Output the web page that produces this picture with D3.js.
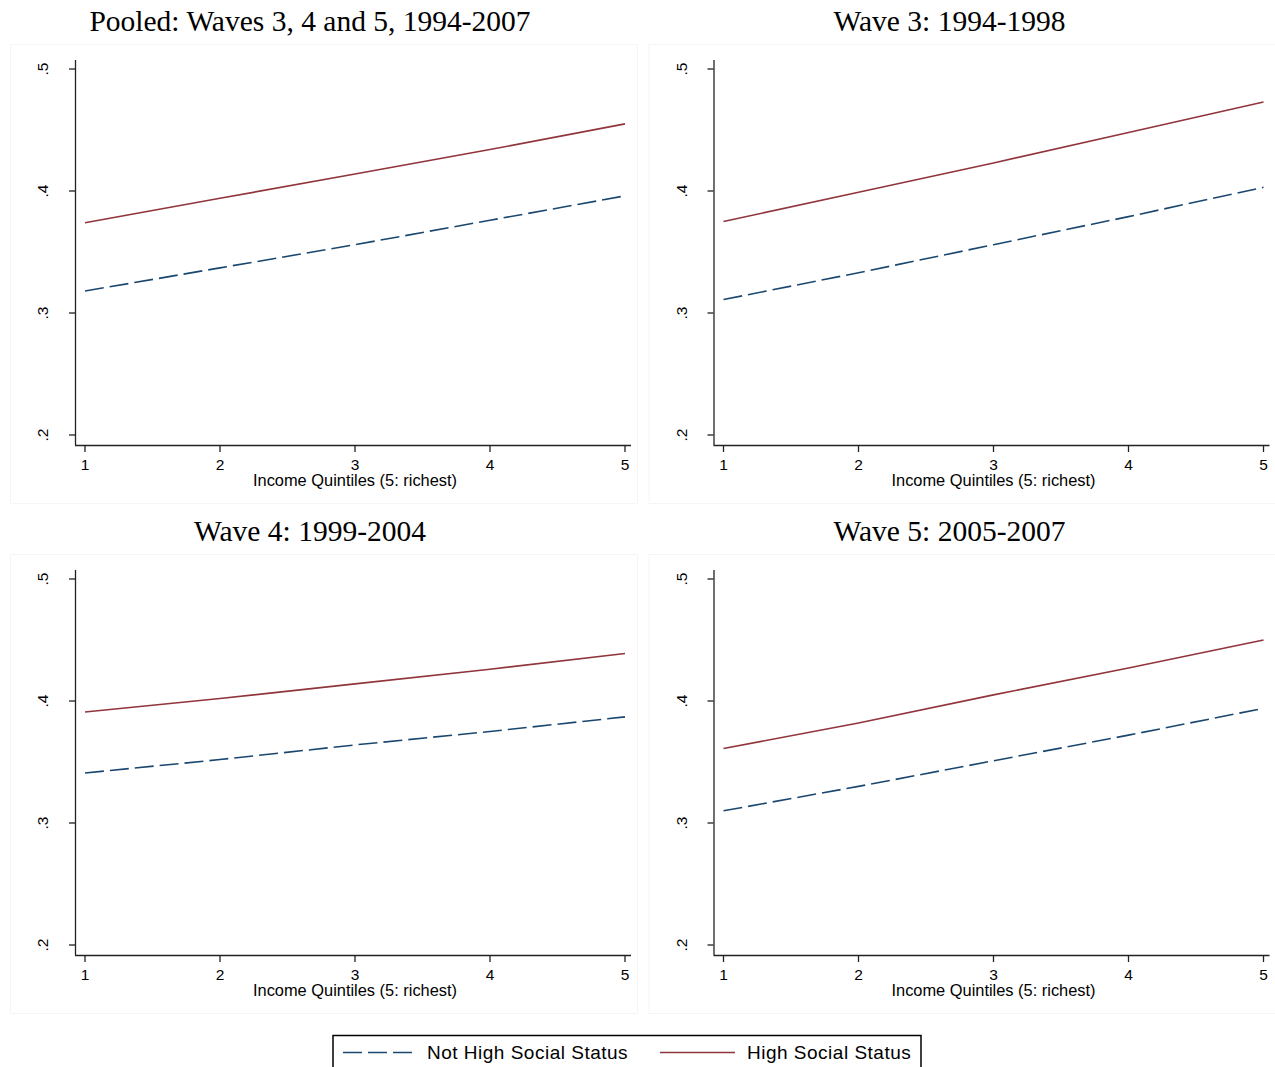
<!DOCTYPE html>
<html>
<head>
<meta charset="utf-8">
<script src="https://cdn.jsdelivr.net/npm/d3@7.9.0/dist/d3.min.js"></script>
<style>
  body { margin: 0; background: #fff; }
  svg { display: block; }
  .tick-label { font-family: "Liberation Sans", Arial, sans-serif; font-size: 15.5px; fill: #000; }
  .axis-title { font-family: "Liberation Sans", Arial, sans-serif; font-size: 16.4px; fill: #000; }
  .panel-title { font-family: "Liberation Serif", "Times New Roman", serif; font-size: 29.5px; fill: #000; }
  .legend-text { font-family: "Liberation Sans", Arial, sans-serif; font-size: 19px; letter-spacing: 0.5px; fill: #000; }
</style>
</head>
<body>
<svg id="chart" width="1275" height="1067"></svg>
<script>
// data
const quintiles = [1, 2, 3, 4, 5];
const panelTitles = [
  "Pooled: Waves 3, 4 and 5, 1994-2007",
  "Wave 3: 1994-1998",
  "Wave 4: 1999-2004",
  "Wave 5: 2005-2007"
];
const notHigh = [
  [0.318, 0.337, 0.356, 0.376, 0.396],
  [0.311, 0.333, 0.356, 0.379, 0.403],
  [0.341, 0.352, 0.364, 0.375, 0.387],
  [0.310, 0.330, 0.351, 0.372, 0.394]
];
const high = [
  [0.374, 0.394, 0.414, 0.434, 0.455],
  [0.375, 0.399, 0.423, 0.448, 0.473],
  [0.391, 0.402, 0.414, 0.426, 0.439],
  [0.361, 0.382, 0.405, 0.427, 0.450]
];
const yTicks = [0.2, 0.3, 0.4, 0.5];
const xTitle = "Income Quintiles (5: richest)";
const legendLabels = ["Not High Social Status", "High Social Status"];

const navy = "#1a476f";
const maroon = "#90353b";
const dash = "19,6";

const svg = d3.select("#chart");

const x = d3.scaleLinear().domain([1, 5]).range([85, 625]);
const y = d3.scaleLinear().domain([0.2, 0.5]).range([435, 69]);

const line = d3.line()
  .x((d, i) => x(quintiles[i]))
  .y(d => y(d));

panelTitles.forEach((title, i) => {
  const col = i % 2, row = Math.floor(i / 2);
  const g = svg.append("g").attr("transform", `translate(${col * 638.5},${row * 510})`);

  // faint graph region outline
  g.append("rect")
    .attr("x", 10.5).attr("y", 44.5)
    .attr("width", 627).attr("height", 459)
    .attr("fill", "#fff")
    .attr("stroke", "#f5f5f5");

  g.append("text")
    .attr("class", "panel-title")
    .attr("x", col === 0 ? 310 : 311)
    .attr("y", 31)
    .attr("text-anchor", "middle")
    .text(title);

  // y axis
  g.append("line")
    .attr("x1", 75.5).attr("x2", 75.5)
    .attr("y1", 60).attr("y2", 445)
    .attr("stroke", "#222").attr("stroke-width", 1.3);
  yTicks.forEach(t => {
    g.append("line")
      .attr("x1", 69).attr("x2", 75)
      .attr("y1", y(t)).attr("y2", y(t))
      .attr("stroke", "#222").attr("stroke-width", 1.3);
    g.append("text")
      .attr("class", "tick-label")
      .attr("transform", `translate(48,${y(t)}) rotate(-90)`)
      .attr("text-anchor", "middle")
      .text(d3.format(".1f")(t).replace(/^0/, ""));
  });

  // x axis
  g.append("line")
    .attr("x1", 75).attr("x2", 631)
    .attr("y1", 445.5).attr("y2", 445.5)
    .attr("stroke", "#222").attr("stroke-width", 1.3);
  quintiles.forEach(q => {
    g.append("line")
      .attr("x1", x(q)).attr("x2", x(q))
      .attr("y1", 446).attr("y2", 452)
      .attr("stroke", "#222").attr("stroke-width", 1.3);
    g.append("text")
      .attr("class", "tick-label")
      .attr("x", x(q)).attr("y", 470)
      .attr("text-anchor", "middle")
      .text(q);
  });
  g.append("text")
    .attr("class", "axis-title")
    .attr("x", x(3)).attr("y", 486)
    .attr("text-anchor", "middle")
    .text(xTitle);

  // series
  g.append("path")
    .attr("d", line(notHigh[i]))
    .attr("fill", "none")
    .attr("stroke", navy)
    .attr("stroke-width", 1.6)
    .attr("stroke-dasharray", dash);
  g.append("path")
    .attr("d", line(high[i]))
    .attr("fill", "none")
    .attr("stroke", maroon)
    .attr("stroke-width", 1.6);
});

// legend
const lg = svg.append("g");
lg.append("rect")
  .attr("x", 333).attr("y", 1035.5)
  .attr("width", 588).attr("height", 45)
  .attr("fill", "#fff")
  .attr("stroke", "#000").attr("stroke-width", 1.5);
const legendItems = [
  { label: legendLabels[0], color: navy, dash: dash, x0: 343, tx: 427 },
  { label: legendLabels[1], color: maroon, dash: null, x0: 660, tx: 747 }
];
legendItems.forEach(it => {
  lg.append("line")
    .attr("x1", it.x0).attr("x2", it.x0 + 75)
    .attr("y1", 1052.5).attr("y2", 1052.5)
    .attr("stroke", it.color).attr("stroke-width", 1.6)
    .attr("stroke-dasharray", it.dash);
  lg.append("text")
    .attr("class", "legend-text")
    .attr("x", it.tx).attr("y", 1059)
    .text(it.label);
});
</script>
</body>
</html>
